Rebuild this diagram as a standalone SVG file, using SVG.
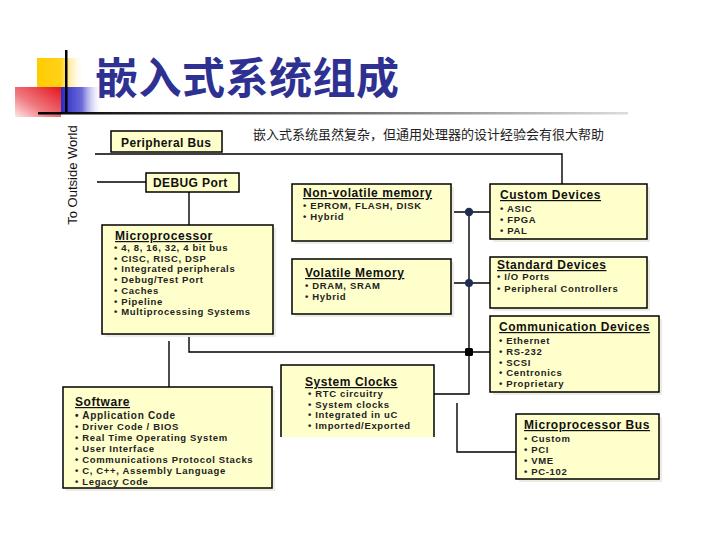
<svg xmlns="http://www.w3.org/2000/svg" width="720" height="540" viewBox="0 0 720 540">
<defs>
<linearGradient id="gY" x1="0" y1="0" x2="1" y2="0">
<stop offset="0" stop-color="#ffcc00"/><stop offset="0.5" stop-color="#ffd21a"/><stop offset="1" stop-color="#ffffff" stop-opacity="0"/>
</linearGradient>
<linearGradient id="gR" x1="1" y1="0" x2="0" y2="1">
<stop offset="0" stop-color="#e3161e"/><stop offset="0.6" stop-color="#f07a80"/><stop offset="1" stop-color="#fde6e6"/>
</linearGradient>
<linearGradient id="gB" x1="0" y1="0" x2="1" y2="0">
<stop offset="0" stop-color="#2b2bc8"/><stop offset="0.5" stop-color="#6a6ad8"/><stop offset="1" stop-color="#ffffff" stop-opacity="0"/>
</linearGradient>
<linearGradient id="gL" x1="0" y1="0" x2="1" y2="0">
<stop offset="0" stop-color="#000"/><stop offset="0.5" stop-color="#666"/><stop offset="1" stop-color="#ddd"/>
</linearGradient>
<style>
.box{fill:#ffffcc;stroke:#000;stroke-width:1.5}
.sh{fill:#ecece2}
.h{font-family:"Liberation Sans",Arial,sans-serif;font-weight:bold;font-size:12px;letter-spacing:0.55px;fill:#111;text-decoration:underline}
.hn{font-family:"Liberation Sans",Arial,sans-serif;font-weight:bold;font-size:12px;letter-spacing:0.4px;fill:#111}
.t{font-family:"Liberation Sans",Arial,sans-serif;font-weight:bold;font-size:9.5px;letter-spacing:0.65px;fill:#222}
.c{fill:none;stroke:#000;stroke-width:1.4}
</style>
</defs>
<rect width="720" height="540" fill="#fff"/>
<g id="title">
<rect x="37" y="58" width="48" height="30" fill="url(#gY)"/>
<rect x="15" y="87" width="46" height="30" fill="url(#gR)"/>
<rect x="61" y="87" width="42" height="26" fill="url(#gB)"/>
<rect x="65" y="50" width="2.5" height="64" fill="#000"/>
<rect x="38" y="112" width="590" height="2.5" fill="url(#gL)"/>
<text x="95" y="94" font-family="'Noto Sans CJK SC',sans-serif" font-weight="bold" font-size="43" letter-spacing="0.5" fill="#2e3192">嵌入式系统组成</text>
<text x="253" y="139" font-family="'Noto Sans CJK SC',sans-serif" font-size="13" fill="#222">嵌入式系统虽然复杂，但通用处理器的设计经验会有很大帮助</text>
<text transform="translate(77,175) rotate(-90)" text-anchor="middle" font-family="'Liberation Sans',Arial,sans-serif" font-size="13" fill="#111">To Outside World</text>
</g>
<g id="connectors">
<path class="c" d="M95 154 H562 V184"/>
<path class="c" d="M97 182 H146"/>
<path class="c" d="M189 192 V225"/>
<path class="c" d="M189 334 V352 H490"/>
<path class="c" d="M169 341 V387"/>
<path class="c" d="M451 212 H490"/>
<path class="c" d="M451 283 H490"/>
<path class="c" d="M469 212 V394 H434"/>
<path class="c" d="M457 403 V452 H516"/>
<circle cx="469" cy="212" r="4.2" fill="#1f2d50"/>
<circle cx="469" cy="283" r="4" fill="#1f2d50"/>
<rect x="465" y="348" width="8" height="8" rx="1.5" fill="#000"/>
</g>
<g id="peripheral-bus">
<rect class="box" x="111" y="131" width="111" height="21"/>
<text class="hn" x="121" y="147">Peripheral Bus</text>
</g>
<g id="debug-port">
<rect class="box" x="146" y="173" width="93" height="19"/>
<text class="hn" x="153" y="187">DEBUG Port</text>
</g>
<g id="microprocessor">
<rect class="sh" x="105" y="228" width="171" height="109"/>
<rect class="box" x="102" y="225" width="171" height="109"/>
<text class="h" x="115" y="240">Microprocessor</text>
<text class="t" x="114" y="251">• 4, 8, 16, 32, 4 bit bus</text>
<text class="t" x="114" y="262">• CISC, RISC, DSP</text>
<text class="t" x="114" y="272">• Integrated peripherals</text>
<text class="t" x="114" y="283">• Debug/Test Port</text>
<text class="t" x="114" y="294">• Caches</text>
<text class="t" x="114" y="305">• Pipeline</text>
<text class="t" x="114" y="315">• Multiprocessing  Systems</text>
</g>
<g id="non-volatile-memory">
<rect class="sh" x="295" y="187" width="159" height="57"/>
<rect class="box" x="292" y="184" width="159" height="57"/>
<text class="h" x="303" y="197">Non-volatile memory</text>
<text class="t" x="303" y="209">• EPROM, FLASH, DISK</text>
<text class="t" x="303" y="220">• Hybrid</text>
</g>
<g id="volatile-memory">
<rect class="sh" x="295" y="262" width="159" height="55"/>
<rect class="box" x="292" y="259" width="159" height="55"/>
<text class="h" x="305" y="277">Volatile Memory</text>
<text class="t" x="305" y="289">• DRAM, SRAM</text>
<text class="t" x="305" y="300">• Hybrid</text>
</g>
<g id="custom-devices">
<rect class="sh" x="493" y="187" width="157" height="55"/>
<rect class="box" x="490" y="184" width="157" height="55"/>
<text class="h" x="500" y="199">Custom Devices</text>
<text class="t" x="500" y="212">• ASIC</text>
<text class="t" x="500" y="223">• FPGA</text>
<text class="t" x="500" y="234">• PAL</text>
</g>
<g id="standard-devices">
<rect class="sh" x="493" y="260" width="157" height="51"/>
<rect class="box" x="490" y="257" width="157" height="51"/>
<text class="h" x="497" y="269">Standard Devices</text>
<text class="t" x="497" y="280">• I/O Ports</text>
<text class="t" x="497" y="292">• Peripheral Controllers</text>
</g>
<g id="communication-devices">
<rect class="sh" x="493" y="319" width="169" height="76"/>
<rect class="box" x="490" y="316" width="169" height="76"/>
<text class="h" x="499" y="331">Communication Devices</text>
<text class="t" x="499" y="344">• Ethernet</text>
<text class="t" x="499" y="355">• RS-232</text>
<text class="t" x="499" y="366">• SCSI</text>
<text class="t" x="499" y="376">• Centronics</text>
<text class="t" x="499" y="387">• Proprietary</text>
</g>
<g id="microprocessor-bus">
<rect class="sh" x="519" y="417" width="143" height="65"/>
<rect class="box" x="516" y="414" width="143" height="65"/>
<text class="h" x="524" y="429">Microprocessor Bus</text>
<text class="t" x="524" y="442">• Custom</text>
<text class="t" x="524" y="453">• PCI</text>
<text class="t" x="524" y="464">• VME</text>
<text class="t" x="524" y="475">• PC-102</text>
</g>
<g id="system-clocks">
<rect x="281" y="365" width="153" height="72" fill="#ffffcc"/>
<path d="M281 437 V365 H434 V437" fill="none" stroke="#000" stroke-width="1.5"/>
<text class="h" x="305" y="386">System Clocks</text>
<text class="t" x="308" y="397">• RTC circuitry</text>
<text class="t" x="308" y="408">• System clocks</text>
<text class="t" x="308" y="418">• Integrated in uC</text>
<text class="t" x="308" y="429">• Imported/Exported</text>
</g>
<g id="software">
<rect class="sh" x="66" y="390" width="209" height="101"/>
<rect class="box" x="63" y="387" width="209" height="101"/>
<text class="h" x="75" y="406">Software</text>
<text class="t" x="75" y="419" style="font-size:10px;letter-spacing:0.7px">• Application Code</text>
<text class="t" x="75" y="430">• Driver Code / BIOS</text>
<text class="t" x="75" y="441">• Real Time Operating System</text>
<text class="t" x="75" y="452">• User Interface</text>
<text class="t" x="75" y="463">• Communications Protocol Stacks</text>
<text class="t" x="75" y="474">• C, C++, Assembly Language</text>
<text class="t" x="75" y="485">• Legacy Code</text>
</g>
</svg>
